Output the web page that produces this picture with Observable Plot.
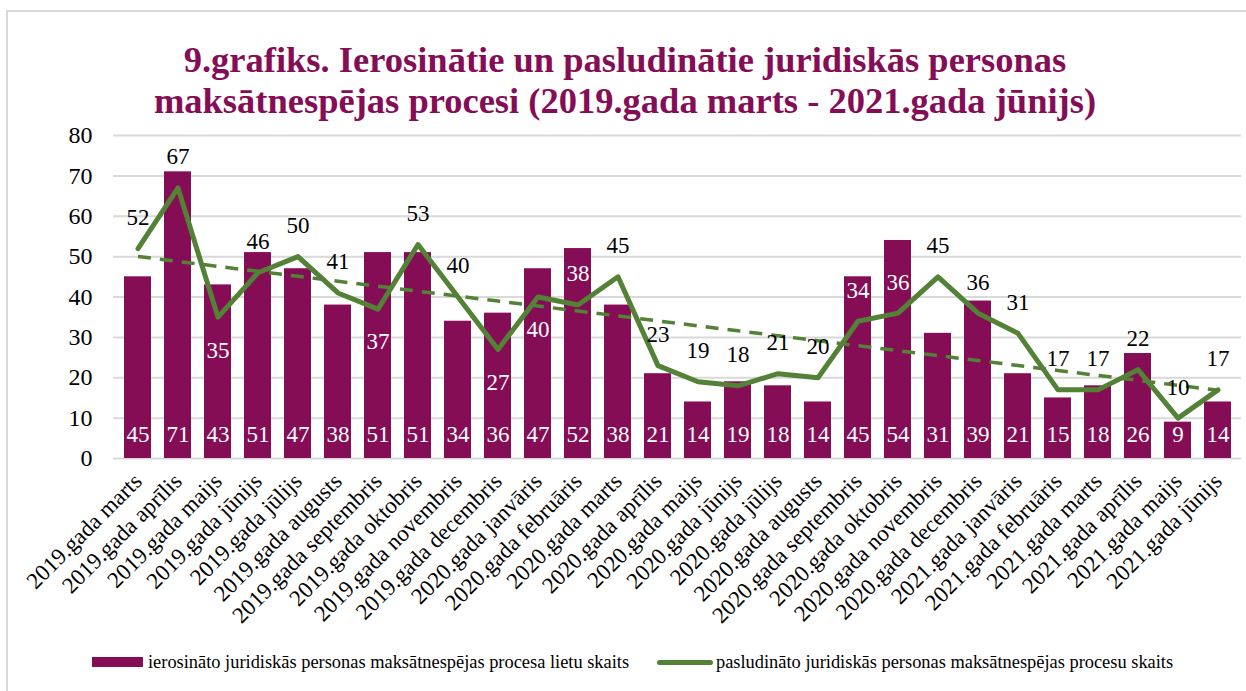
<!DOCTYPE html>
<html>
<head>
<meta charset="utf-8">
<script src="https://cdn.jsdelivr.net/npm/d3@7"></script>
<script src="https://cdn.jsdelivr.net/npm/@observablehq/plot@0.6"></script>
<style>
  html, body { margin: 0; padding: 0; background: #fff; }
  body { width: 1246px; height: 691px; overflow: hidden; position: relative; font-family: "Liberation Serif", serif; }
  #frame { position: absolute; left: 6px; top: 10px; width: 1270px; height: 720px; border: 2px solid #d9d9d9; box-sizing: border-box; }
  #title { position: absolute; left: 0; top: 39px; width: 1250px; text-align: center; color: #850d55; font-weight: bold; font-size: 36.5px; line-height: 41px; }
  #chart { position: absolute; left: 0; top: 0; }
  .leg { position: absolute; top: 651px; height: 22px; font-size: 18.4px; line-height: 22px; color: #000; white-space: nowrap; }
  .sw-bar { position: absolute; left: 92px; top: 657px; width: 51px; height: 10px; background: #850d55; }
  .sw-line { position: absolute; left: 657px; top: 660px; width: 56px; height: 5px; border-radius: 3px; background: #538135; }
</style>
</head>
<body>
<div id="frame"></div>
<div id="chart"></div>
<div id="title">9.grafiks. Ierosinātie un pasludinātie juridiskās personas<br>maksātnespējas procesi (2019.gada marts - 2021.gada jūnijs)</div>
<div class="sw-bar"></div>
<div class="leg" style="left:148px">ierosināto juridiskās personas maksātnespējas procesa lietu skaits</div>
<div class="sw-line"></div>
<div class="leg" style="left:716px">pasludināto juridiskās personas maksātnespējas procesu skaits</div>
<script>
const months = [
  "2019.gada marts", "2019.gada aprīlis", "2019.gada maijs", "2019.gada jūnijs", "2019.gada jūlijs",
  "2019.gada augusts", "2019.gada septembris", "2019.gada oktobris", "2019.gada novembris", "2019.gada decembris",
  "2020.gada janvāris", "2020.gada februāris", "2020.gada marts", "2020.gada aprīlis", "2020.gada maijs",
  "2020.gada jūnijs", "2020.gada jūlijs", "2020.gada augusts", "2020.gada septembris", "2020.gada oktobris",
  "2020.gada novembris", "2020.gada decembris", "2021.gada janvāris", "2021.gada februāris", "2021.gada marts",
  "2021.gada aprīlis", "2021.gada maijs", "2021.gada jūnijs"
];
const initiated = [45, 71, 43, 51, 47, 38, 51, 51, 34, 36, 47, 52, 38, 21, 14, 19, 18, 14, 45, 54, 31, 39, 21, 15, 18, 26, 9, 14];
const declared  = [52, 67, 35, 46, 50, 41, 37, 53, 40, 27, 40, 38, 45, 23, 19, 18, 21, 20, 34, 36, 45, 36, 31, 17, 17, 22, 10, 17];
const labelsBelow = ["2019.gada maijs", "2019.gada septembris", "2019.gada decembris", "2020.gada janvāris"];
const yTicks = [0, 10, 20, 30, 40, 50, 60, 70, 80];

const barColor = "#850d55";
const lineColor = "#538135";
const FONT = "Liberation Serif";

// Linear trend (least squares) of the declared series, as Excel's trendline
const n = declared.length;
const xm = d3.mean(d3.range(n));
const ym = d3.mean(declared);
const slope = d3.sum(d3.range(n), i => (i - xm) * (declared[i] - ym)) / d3.sum(d3.range(n), i => (i - xm) ** 2);
const intercept = ym - slope * xm;

const data = months.map((m, i) => ({
  month: m,
  initiated: initiated[i],
  declared: declared[i],
  trend: intercept + slope * i,
  below: labelsBelow.includes(m)
}));

const H = 691, mTop = 135, mBottom = 233;
const pxPerUnit = (H - mTop - mBottom) / 80;
const dyAbove = -31, dyBelow = 33;
const labelFill = d => {
  const center = d.below ? d.declared - dyBelow / pxPerUnit : d.declared - dyAbove / pxPerUnit;
  return center < d.initiated ? "white" : "black";
};

const chart = Plot.plot({
  width: 1246,
  height: H,
  marginTop: mTop,
  marginBottom: mBottom,
  marginLeft: 113,
  marginRight: 5,
  style: "font-family: 'Liberation Serif', serif; background: transparent; color: #000;",
  x: { domain: months, paddingInner: 0.33, paddingOuter: 0.165, label: null },
  y: { domain: [0, 80], label: null },
  color: { type: "identity" },
  marks: [
    Plot.gridY(yTicks, { stroke: "#d9d9d9", strokeOpacity: 1, strokeWidth: 2 }),
    Plot.axisY(yTicks, { tickSize: 0, tickPadding: 21, fontSize: 24, fontFamily: FONT, label: null }),
    Plot.axisX({ tickSize: 0, tickRotate: -45, tickPadding: 19, fontSize: 23, fontFamily: FONT, label: null }),
    Plot.barY(data, { x: "month", y: "initiated", fill: barColor }),
    Plot.line(data, { x: "month", y: "trend", stroke: lineColor, strokeWidth: 3.5, strokeDasharray: "13,9", strokeLinecap: "butt" }),
    Plot.line(data, { x: "month", y: "declared", stroke: lineColor, strokeWidth: 5, strokeLinejoin: "round" }),
    Plot.text(data, { x: "month", y: 0, text: d => String(d.initiated), fill: "white", dy: -23.5, fontSize: 23, fontFamily: FONT }),
    Plot.text(data.filter(d => !d.below), { x: "month", y: "declared", text: d => String(d.declared), fill: labelFill, dy: dyAbove, fontSize: 23, fontFamily: FONT }),
    Plot.text(data.filter(d => d.below), { x: "month", y: "declared", text: d => String(d.declared), fill: labelFill, dy: dyBelow, fontSize: 23, fontFamily: FONT })
  ]
});
document.getElementById("chart").appendChild(chart);
</script>
</body>
</html>
